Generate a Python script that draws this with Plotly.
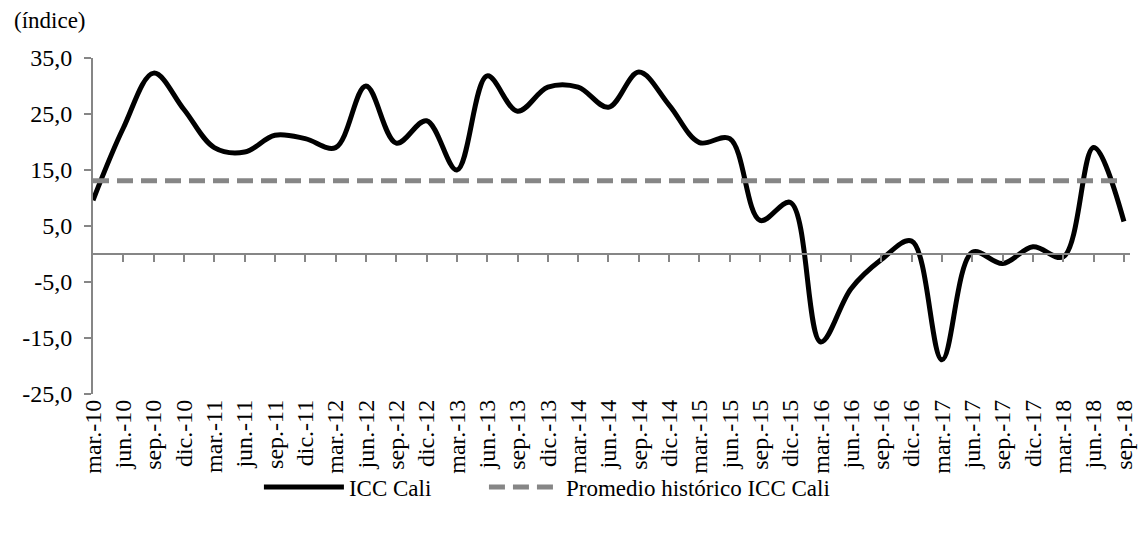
import plotly.graph_objects as go

# quarterly labels mar-10 .. sep-18
periodos = [
    'mar.-10', 'jun.-10', 'sep.-10', 'dic.-10',
    'mar.-11', 'jun.-11', 'sep.-11', 'dic.-11',
    'mar.-12', 'jun.-12', 'sep.-12', 'dic.-12',
    'mar.-13', 'jun.-13', 'sep.-13', 'dic.-13',
    'mar.-14', 'jun.-14', 'sep.-14', 'dic.-14',
    'mar.-15', 'jun.-15', 'sep.-15', 'dic.-15',
    'mar.-16', 'jun.-16', 'sep.-16', 'dic.-16',
    'mar.-17', 'jun.-17', 'sep.-17', 'dic.-17',
    'mar.-18', 'jun.-18', 'sep.-18',
]

icc_cali = [
    9.6, 22.5, 32.3, 25.8,
    19.0, 18.2, 21.2, 20.6,
    19.0, 30.0, 19.8, 23.8,
    15.0, 31.8, 25.5, 29.8,
    29.8, 26.2, 32.5, 26.6,
    19.9, 20.6, 6.0, 9.2,
    -15.7, -6.2, -1.0, 2.3,
    -18.9, 0.3, -1.7, 1.3,
    -0.5, 19.0, 5.8,
]

promedio = [13.1] * len(periodos)

y_ticks = [-25, -15, -5, 5, 15, 25, 35]
y_labels = ['-25,0', '-15,0', '-5,0', '5,0', '15,0', '25,0', '35,0']

x = list(range(len(periodos)))
gris = '#868686'
fuente = 'Liberation Serif, Times New Roman, serif'

fig = go.Figure()

fig.add_trace(go.Scatter(
    x=x, y=icc_cali, mode='lines', name='ICC Cali',
    line=dict(color='black', width=5, shape='spline', smoothing=1.0),
    legend='legend',
))

fig.add_trace(go.Scatter(
    x=x, y=promedio, mode='lines', name='Promedio histórico ICC Cali',
    line=dict(color=gris, width=5, dash='16px,8px'),
    legend='legend2',
))

# empty trace so the axis on the zero line gets drawn
fig.add_trace(go.Scatter(
    x=x, y=[None] * len(x), xaxis='x2', mode='lines',
    showlegend=False, hoverinfo='skip',
))

# page body has an 8px margin, figure placed so the plot lands where it should
fig.update_layout(
    xaxis=dict(
        range=[0, 34.2], tickvals=x, ticktext=periodos, tickangle=-90,
        showline=False, showgrid=False, zeroline=False, ticks='',
        ticklabeloverflow='allow',
        tickfont=dict(family=fuente, size=24, color='black'),
    ),
    xaxis2=dict(
        overlaying='x', anchor='free', position=25 / 60,
        range=[0, 34.2], tickvals=x[1:], showticklabels=False,
        showline=True, linecolor=gris, linewidth=2,
        ticks='outside', ticklen=7, tickwidth=2, tickcolor=gris,
        showgrid=False, zeroline=False,
    ),
    yaxis=dict(
        range=[-25, 35], tickvals=y_ticks, ticktext=y_labels,
        showline=True, linecolor=gris, linewidth=2,
        ticks='outside', ticklen=7, tickwidth=2, tickcolor=gris,
        ticklabelstandoff=7,
        showgrid=False, zeroline=False,
        tickfont=dict(family=fuente, size=24, color='black'),
    ),
    width=1140, height=517,
    margin=dict(l=85, r=11, t=50, b=131),
    plot_bgcolor='white', paper_bgcolor='white',
    showlegend=True,
    legend=dict(
        orientation='h', x=0.160, xanchor='left', y=-0.277, yanchor='middle',
        font=dict(family=fuente, size=23, color='black'),
        bgcolor='rgba(0,0,0,0)', itemwidth=80,
    ),
    legend2=dict(
        orientation='h', x=0.377, xanchor='left', y=-0.277, yanchor='middle',
        font=dict(family=fuente, size=23, color='black'),
        bgcolor='rgba(0,0,0,0)', itemwidth=72,
    ),
    annotations=[dict(
        text='(índice)', xref='paper', yref='paper',
        x=-0.078, y=1.113, xanchor='left', yanchor='middle', showarrow=False,
        font=dict(family=fuente, size=23, color='black'),
    )],
)

fig.write_html('out.html')
